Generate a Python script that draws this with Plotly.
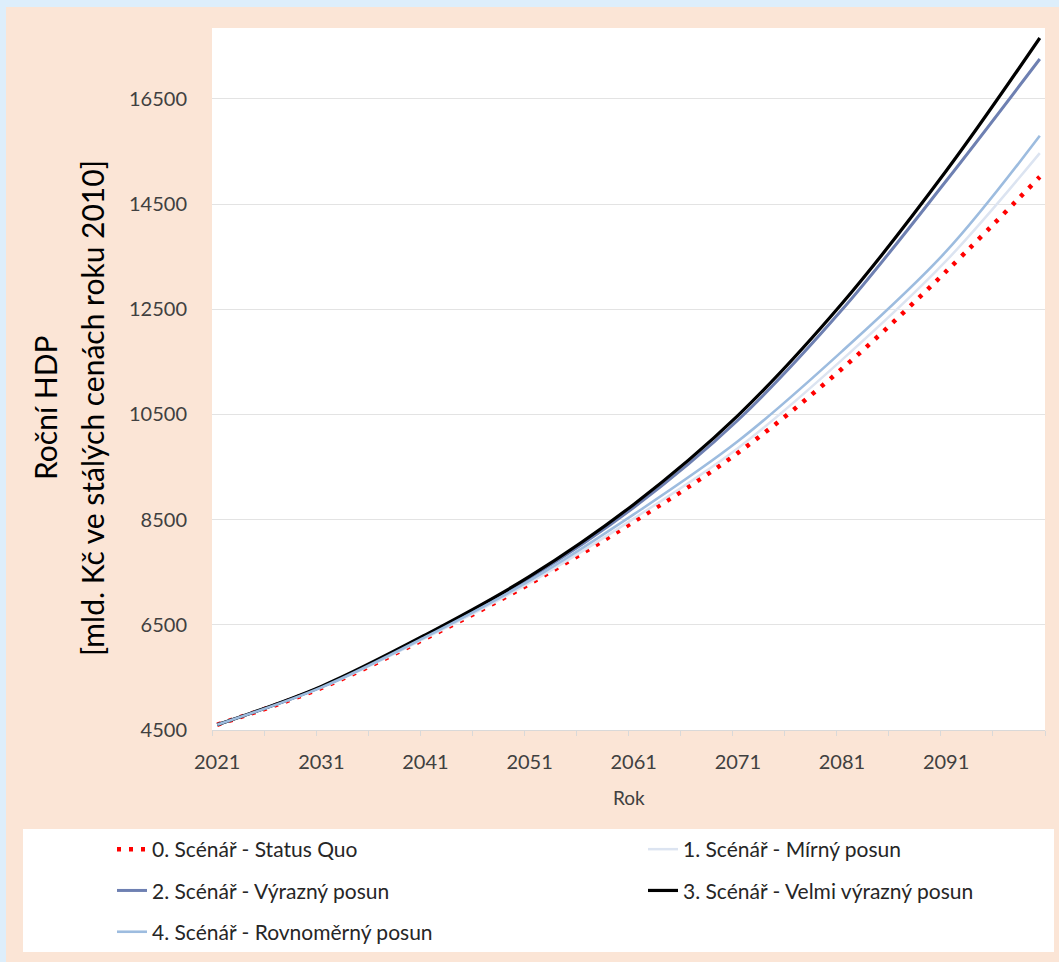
import plotly.graph_objects as go

# ---- data ----
years = [2021, 2031, 2041, 2051, 2061, 2071, 2081, 2091, 2100]
s0_status_quo = [4600, 5300, 6240, 7280, 8460, 9770, 11370, 13220, 15020]
s1_mirny = [4600, 5305, 6250, 7300, 8520, 9860, 11540, 13420, 15470]
s2_vyrazny = [4600, 5320, 6290, 7390, 8730, 10390, 12490, 14940, 17260]
s3_velmi = [4600, 5330, 6310, 7420, 8790, 10480, 12610, 15130, 17660]
s4_rovnomerny = [4600, 5310, 6270, 7340, 8600, 9990, 11700, 13600, 15800]

names = ["0. Scénář - Status Quo", "1. Scénář - Mírný posun", "2. Scénář - Výrazný posun",
         "3. Scénář - Velmi výrazný posun", "4. Scénář - Rovnoměrný posun"]
y_ticks = [4500, 6500, 8500, 10500, 12500, 14500, 16500]
x_ticks = [2021, 2031, 2041, 2051, 2061, 2071, 2081, 2091]

# ---- layout geometry (pixels) ----
W, H = 1059, 962
L, R, T, B = 212, 1045, 28, 730
pw, ph = R - L, B - T

def px(x):
    return (x - L) / pw

def py(y):
    return (B - y) / ph

FONT = "Lato"

fig = go.Figure()
styles = [
    dict(color="#FF0000", width=4.5, dash="4px,8px"),
    dict(color="#DCE4F1", width=2.5),
    dict(color="#6E80B2", width=3),
    dict(color="#000000", width=3.2),
    dict(color="#9DBCDF", width=2.6),
]
series = [s0_status_quo, s1_mirny, s2_vyrazny, s3_velmi, s4_rovnomerny]
legend_ids = ["legend", "legend2", "legend", "legend2", "legend"]
for i, (nm, ys, st) in enumerate(zip(names, series, styles)):
    fig.add_trace(go.Scatter(
        x=years, y=ys, name=nm, mode="lines",
        line=dict(shape="spline", smoothing=1.0, **st),
        legend=legend_ids[i], legendgroup=f"g{i}",
    ))

leg_common = dict(
    bgcolor="rgba(0,0,0,0)", borderwidth=0, orientation="v",
    font=dict(family=FONT, size=21, color="#262626"),
    tracegroupgap=11, xanchor="left", yanchor="top",
)

fig.update_layout(
    width=W, height=H,
    margin=dict(l=L, r=W - R, t=T, b=H - B, autoexpand=False),
    paper_bgcolor="#FBE5D6", plot_bgcolor="#FFFFFF",
    font=dict(family=FONT, color="#404040"),
    showlegend=True,
    legend=dict(x=px(112), y=py(829), **leg_common),
    legend2=dict(x=px(643), y=py(829), **leg_common),
    xaxis=dict(
        range=[2020.5, 2100.5], tickmode="array", tickvals=x_ticks,
        ticktext=[str(v) for v in x_ticks], ticks="", showgrid=False,
        showline=True, linecolor="#D9D9D9", linewidth=1,
        tickfont=dict(family=FONT, size=20, color="#404040"),
        ticklabelstandoff=14, zeroline=False,
        minor=dict(tickmode="linear", tick0=2020.5, dtick=5, ticks="outside",
                   ticklen=5, tickcolor="#D9D9D9", showgrid=False),
    ),
    yaxis=dict(
        range=[4500, 17850], tickmode="array", tickvals=y_ticks,
        ticktext=[str(v) for v in y_ticks], ticks="",
        showgrid=True, gridcolor="#E3E3E3", gridwidth=1, zeroline=False,
        showline=False,
        tickfont=dict(family=FONT, size=20, color="#404040"),
        ticklabelstandoff=24,
    ),
    shapes=[
        dict(type="rect", xref="paper", yref="paper", x0=px(0), x1=px(6), y0=py(H), y1=py(0),
             fillcolor="#DDEEFB", line=dict(width=0), layer="below"),
        dict(type="rect", xref="paper", yref="paper", x0=px(0), x1=px(W), y0=py(7), y1=py(0),
             fillcolor="#DDEEFB", line=dict(width=0), layer="below"),
        dict(type="rect", xref="paper", yref="paper", x0=px(23), x1=px(1054), y0=py(952), y1=py(829),
             fillcolor="#FFFFFF", line=dict(width=0), layer="below"),
    ],
    annotations=[
        dict(text="Roční HDP", textangle=-90,
             xref="paper", yref="paper", x=px(45), y=py(408), xanchor="center", yanchor="middle",
             showarrow=False, font=dict(family=FONT, size=30, color="#000000")),
        dict(text="[mld. Kč ve stálých cenách roku 2010]", textangle=-90,
             xref="paper", yref="paper", x=px(92), y=py(408), xanchor="center", yanchor="middle",
             showarrow=False, font=dict(family=FONT, size=30, color="#000000")),
        dict(text="Rok", xref="paper", yref="paper", x=0.5, y=py(797),
             xanchor="center", yanchor="middle", showarrow=False,
             font=dict(family=FONT, size=19, color="#404040")),
    ],
)

fig.write_html("out.html", config={"displayModeBar": False},
               post_script="document.body.style.margin='0';")
